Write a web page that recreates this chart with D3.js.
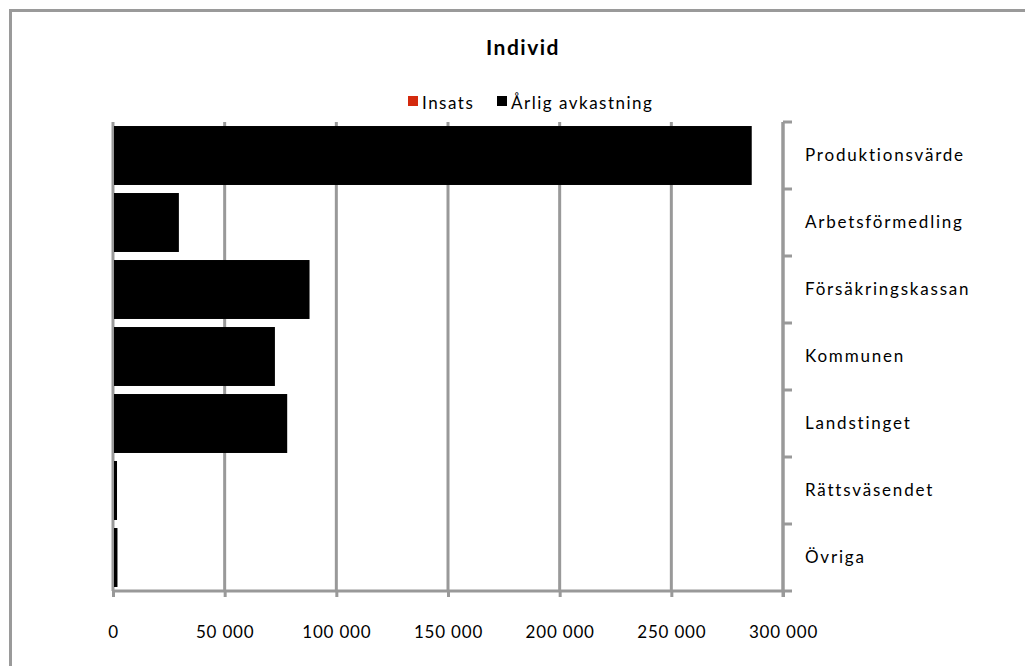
<!DOCTYPE html>
<html><head><meta charset="utf-8">
<script src="https://cdn.jsdelivr.net/npm/d3@7"></script>
<style>body{margin:0;background:#fff}text{font-family:Lato,"Open Sans",sans-serif}</style>
</head><body>
<svg id="c" width="1025" height="666"></svg>
<script>
const categories = ["Produktionsvärde","Arbetsförmedling","Försäkringskassan","Kommunen","Landstinget","Rättsväsendet","Övriga"];
const insats = [0,0,0,0,0,0,0];
const avkastning = [286000,29500,88000,72500,78000,1800,2000];
const xTicks = [0,50000,100000,150000,200000,250000,300000];
const seriesNames = ["Insats","Årlig avkastning"];
const seriesColors = ["#d42a0e","#000000"];

const svg = d3.select("#c");
svg.append("rect").attr("x",10.5).attr("y",10.5).attr("width",1200).attr("height",1000)
  .attr("fill","#fff").attr("stroke","#9a9a9a").attr("stroke-width",3);

const L=113,R=783,T=122,B=591;
const x = d3.scaleLinear().domain([0,300000]).range([L,R]);
const y = d3.scaleBand().domain(categories).range([T,B]).paddingInner(0.12).paddingOuter(0.06);
const yb = d3.scaleBand().domain(categories).range([T,B]);

// gridlines
svg.append("g").selectAll("line").data(xTicks).join("line")
  .attr("x1",d=>x(d)).attr("x2",d=>x(d)).attr("y1",T).attr("y2",B)
  .attr("stroke","#999").attr("stroke-width",3);

// bars (stacked)
const rows = categories.map((c,i)=>({c,ins:insats[i],av:avkastning[i]}));
svg.append("g").selectAll("rect").data(rows).join("rect")
  .attr("x",d=>x(0)+1).attr("y",d=>y(d.c)).attr("height",y.bandwidth())
  .attr("width",d=>x(d.ins)-x(0)).attr("fill",seriesColors[0]);
svg.append("g").selectAll("rect").data(rows).join("rect")
  .attr("x",d=>x(d.ins)+1).attr("y",d=>y(d.c)).attr("height",y.bandwidth())
  .attr("width",d=>x(d.ins+d.av)-x(d.ins)-1).attr("fill",seriesColors[1]);

// bottom axis
const fmt = d=> d3.format(",")(d).replace(/,/g," ");
const gx = svg.append("g").attr("transform",`translate(0,${B})`)
  .call(d3.axisBottom(x).tickValues(xTicks).tickFormat(fmt).tickSize(6).tickSizeOuter(0));
gx.select(".domain").attr("stroke","#999").attr("stroke-width",3).attr("d",`M${L-1},0H${R+1}`);
gx.selectAll(".tick line").attr("stroke","#999").attr("stroke-width",3);
gx.selectAll(".tick text").attr("fill","#000").attr("font-size",17).attr("dy",0).attr("y",47)
  .attr("font-family","Lato").style("letter-spacing","0.8px");

// right category axis
const gy = svg.append("g").attr("transform",`translate(${R},0)`)
  .call(d3.axisRight(yb).tickSize(0));
gy.select(".domain").attr("stroke","#999").attr("stroke-width",3).attr("d",`M0,${T}V${B+6}`);
gy.selectAll(".tick text").remove();
svg.append("g").selectAll("line").data(d3.range(categories.length+1)).join("line")
  .attr("x1",R).attr("x2",R+9)
  .attr("y1",i=>T+i*yb.step()).attr("y2",i=>T+i*yb.step())
  .attr("stroke","#999").attr("stroke-width",3);
svg.append("g").selectAll("text").data(categories).join("text")
  .attr("x",805).attr("y",d=>yb(d)+yb.bandwidth()/2).attr("dy","0.35em")
  .attr("font-size",17).style("letter-spacing","1.8px").text(d=>d);

// title
svg.append("text").attr("x",523).attr("y",55).attr("text-anchor","middle")
  .attr("font-size",21).attr("font-weight","bold").style("letter-spacing","1.5px").text("Individ");

// legend
const lg = svg.append("g");
const lx = [408,497];
seriesNames.forEach((n,i)=>{
  lg.append("rect").attr("x",lx[i]).attr("y",96).attr("width",10).attr("height",10).attr("fill",seriesColors[i]);
  lg.append("text").attr("x",lx[i]+14).attr("y",109).attr("font-size",17)
    .style("letter-spacing","1.5px").text(n);
});
</script>
</body></html>
